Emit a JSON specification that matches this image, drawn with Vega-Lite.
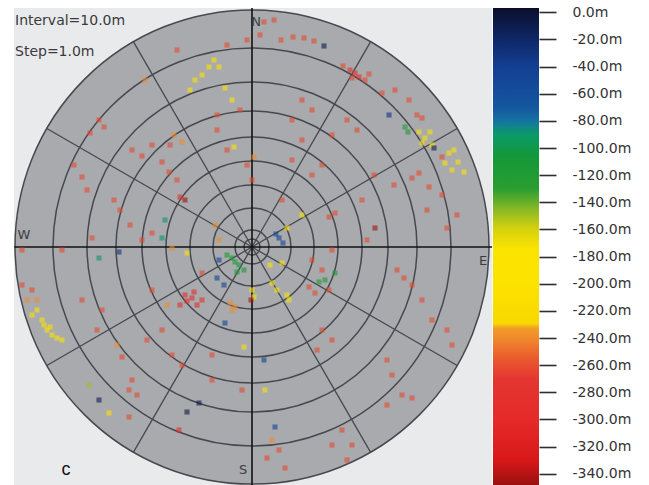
{
  "$schema": "https://vega.github.io/schema/vega-lite/v6.json",
  "background": "white",
  "padding": {"left": 12, "top": 5, "right": 0, "bottom": 0},
  "autosize": {"type": "pad"},
  "spacing": 1,
  "bounds": "flush",
  "config": {"view": {"stroke": null}},
  "hconcat": [
    {
      "width": 478,
      "height": 477,
      "view": {"fill": "#e9eaec", "stroke": null},
      "layer": [
        {
          "data": {"values": [{"r": 237}]},
          "mark": {"type": "point", "shape": "circle", "filled": true, "fill": "#a8aaad", "stroke": "#45494e", "strokeWidth": 1.5, "opacity": 1},
          "encoding": {
            "x": {"datum": 0, "type": "quantitative", "scale": {"domain": [-238, 240], "nice": false, "zero": false}, "axis": null},
            "y": {"datum": 0, "type": "quantitative", "scale": {"domain": [-238, 239], "nice": false, "zero": false}, "axis": null},
            "size": {"field": "r", "type": "quantitative", "scale": {"type": "pow", "exponent": 2, "domain": [0, 237], "range": [0, 224676], "zero": true}, "legend": null}
          }
        },
        {
          "data": {"values": [{"r": 8}, {"r": 17}, {"r": 39}, {"r": 62}, {"r": 86}, {"r": 110}, {"r": 136}, {"r": 165}, {"r": 199}]},
          "mark": {"type": "point", "shape": "circle", "filled": false, "stroke": "#45494e", "strokeWidth": 1.5, "opacity": 1},
          "encoding": {
            "x": {"datum": 0, "type": "quantitative", "scale": {"domain": [-238, 240], "nice": false, "zero": false}, "axis": null},
            "y": {"datum": 0, "type": "quantitative", "scale": {"domain": [-238, 239], "nice": false, "zero": false}, "axis": null},
            "size": {"field": "r", "type": "quantitative", "scale": {"type": "pow", "exponent": 2, "domain": [0, 237], "range": [0, 224676], "zero": true}, "legend": null}
          }
        },
        {
          "data": {"values": [
            {"x": 0, "y": 0, "x2": 118.5, "y2": 205.2},
            {"x": 0, "y": 0, "x2": 205.2, "y2": 118.5},
            {"x": 0, "y": 0, "x2": 205.2, "y2": -118.5},
            {"x": 0, "y": 0, "x2": 118.5, "y2": -205.2},
            {"x": 0, "y": 0, "x2": -118.5, "y2": -205.2},
            {"x": 0, "y": 0, "x2": -205.2, "y2": -118.5},
            {"x": 0, "y": 0, "x2": -205.2, "y2": 118.5},
            {"x": 0, "y": 0, "x2": -118.5, "y2": 205.2}
          ]},
          "mark": {"type": "rule", "stroke": "#45494e", "strokeWidth": 1.3},
          "encoding": {
            "x": {"field": "x", "type": "quantitative", "scale": {"domain": [-238, 240], "nice": false, "zero": false}, "axis": null},
            "y": {"field": "y", "type": "quantitative", "scale": {"domain": [-238, 239], "nice": false, "zero": false}, "axis": null},
            "x2": {"field": "x2"},
            "y2": {"field": "y2"}
          }
        },
        {
          "data": {"values": [
            {"x": -237.5, "y": 0, "x2": 240, "y2": 0},
            {"x": 0, "y": 239, "x2": 0, "y2": -238}
          ]},
          "mark": {"type": "rule", "stroke": "#111111", "strokeWidth": 1.6, "clip": true},
          "encoding": {
            "x": {"field": "x", "type": "quantitative", "scale": {"domain": [-238, 240], "nice": false, "zero": false}, "axis": null},
            "y": {"field": "y", "type": "quantitative", "scale": {"domain": [-238, 239], "nice": false, "zero": false}, "axis": null},
            "x2": {"field": "x2"},
            "y2": {"field": "y2"}
          }
        },
        {
          "data": {"values": [
            {"x":12,"y":225,"d":-262},{"x":22,"y":227,"d":-262},{"x":29,"y":207,"d":-262},{"x":41,"y":210,"d":-262},{"x":52,"y":209,"d":-262},{"x":62,"y":206,"d":-262},{"x":72,"y":201,"d":-8},{"x":8,"y":212,"d":-262},
            {"x":91,"y":181,"d":-262},{"x":98,"y":177,"d":-290},{"x":103,"y":174,"d":-290},{"x":107,"y":170,"d":-290},{"x":113,"y":167,"d":-262},{"x":100,"y":169,"d":-262},{"x":117,"y":173,"d":-262},
            {"x":130,"y":154,"d":-262},{"x":143,"y":157,"d":-262},{"x":157,"y":147,"d":-262},{"x":137,"y":132,"d":-30},{"x":165,"y":132,"d":-262},{"x":170,"y":129,"d":-262},
            {"x":153,"y":120,"d":-115},{"x":156,"y":115,"d":-115},{"x":167,"y":115,"d":-200},{"x":173,"y":109,"d":-200},{"x":178,"y":115,"d":-200},{"x":170,"y":104,"d":-200},{"x":180,"y":102,"d":-200},{"x":182,"y":99,"d":-8},
            {"x":197,"y":94,"d":-200},{"x":202,"y":97,"d":-200},{"x":193,"y":84,"d":-200},{"x":200,"y":77,"d":-200},{"x":206,"y":85,"d":-200},{"x":212,"y":75,"d":-200},{"x":190,"y":90,"d":-262},
            {"x":167,"y":74,"d":-262},{"x":177,"y":60,"d":-262},{"x":160,"y":69,"d":-262},{"x":190,"y":52,"d":-262},{"x":205,"y":32,"d":-262},{"x":195,"y":19,"d":-262},{"x":175,"y":37,"d":-262},{"x":142,"y":62,"d":-262},{"x":122,"y":72,"d":-262},
            {"x":110,"y":47,"d":-262},{"x":123,"y":19,"d":-345},{"x":115,"y":7,"d":-262},
            {"x":-75,"y":197,"d":-262},{"x":-107,"y":167,"d":-240},{"x":-57,"y":167,"d":-200},{"x":-43,"y":180,"d":-200},{"x":-33,"y":180,"d":-200},{"x":-27,"y":159,"d":-200},{"x":-62,"y":157,"d":-200},{"x":-50,"y":172,"d":-200},{"x":-38,"y":187,"d":-200},{"x":-20,"y":147,"d":-200},
            {"x":-12,"y":137,"d":-262},{"x":-25,"y":202,"d":-262},{"x":-5,"y":207,"d":-262},{"x":-35,"y":132,"d":-262},
            {"x":-153,"y":127,"d":-262},{"x":-148,"y":120,"d":-262},{"x":-162,"y":114,"d":-262},{"x":-120,"y":97,"d":-262},{"x":-110,"y":91,"d":-262},{"x":-100,"y":102,"d":-262},{"x":-90,"y":85,"d":-262},{"x":-83,"y":75,"d":-262},{"x":-75,"y":67,"d":-262},
            {"x":-67,"y":47,"d":-345},{"x":-72,"y":50,"d":-290},{"x":-78,"y":112,"d":-240},{"x":-70,"y":105,"d":-240},{"x":-82,"y":102,"d":-262},
            {"x":-35,"y":117,"d":-262},{"x":-25,"y":97,"d":-262},{"x":-18,"y":100,"d":-200},{"x":2,"y":90,"d":-240},{"x":-5,"y":82,"d":-262},{"x":0,"y":67,"d":-262},
            {"x":-178,"y":82,"d":-262},{"x":-170,"y":70,"d":-262},{"x":-165,"y":57,"d":-262},{"x":-138,"y":47,"d":-262},{"x":-132,"y":37,"d":-262},{"x":-110,"y":7,"d":-262},{"x":-100,"y":14,"d":-262},{"x":-122,"y":22,"d":-262},
            {"x":-90,"y":9,"d":-88},{"x":-80,"y":-1,"d":-240},{"x":-65,"y":-6,"d":-200},{"x":-33,"y":7,"d":-240},{"x":-37,"y":22,"d":-240},{"x":-33,"y":-13,"d":-45},{"x":-17,"y":-15,"d":-115},{"x":-153,"y":-11,"d":-88},{"x":-160,"y":9,"d":-262},{"x":-133,"y":-5,"d":-30},{"x":-87,"y":27,"d":-88},
            {"x":-230,"y":-3,"d":-262},{"x":-190,"y":-3,"d":-262},
            {"x":-20,"y":-11,"d":-115},{"x":-13,"y":-18,"d":-115},{"x":-8,"y":-23,"d":-115},{"x":-15,"y":-25,"d":-115},{"x":-25,"y":-8,"d":-115},
            {"x":27,"y":9,"d":-45},{"x":31,"y":4,"d":-45},{"x":24,"y":13,"d":-45},{"x":-35,"y":-31,"d":-45},{"x":-28,"y":-38,"d":-45},
            {"x":-50,"y":-26,"d":-262},{"x":-60,"y":-51,"d":-290},{"x":-65,"y":-54,"d":-290},{"x":-55,"y":-58,"d":-290},{"x":-67,"y":-48,"d":-290},{"x":-50,"y":-53,"d":-290},{"x":-72,"y":-58,"d":-290},{"x":-58,"y":-45,"d":-290},
            {"x":0,"y":-43,"d":-200},{"x":2,"y":-50,"d":-200},{"x":-1,"y":-53,"d":-345},{"x":20,"y":-36,"d":-200},{"x":25,"y":-43,"d":-200},{"x":35,"y":-48,"d":-200},{"x":37,"y":-53,"d":-200},{"x":30,"y":-16,"d":-200},{"x":18,"y":-18,"d":-200},
            {"x":67,"y":-35,"d":-115},{"x":73,"y":-33,"d":-115},{"x":83,"y":-26,"d":-115},{"x":57,"y":-40,"d":-262},{"x":63,"y":-46,"d":-262},{"x":77,"y":-43,"d":-262},
            {"x":-22,"y":-56,"d":-240},{"x":-20,"y":-63,"d":-240},{"x":-17,"y":-60,"d":-240},{"x":-27,"y":-76,"d":-45},
            {"x":77,"y":30,"d":-262},{"x":83,"y":34,"d":-262},{"x":50,"y":107,"d":-262},{"x":40,"y":87,"d":-262},{"x":60,"y":72,"d":-262},{"x":70,"y":82,"d":-262},{"x":30,"y":47,"d":-262},{"x":50,"y":32,"d":-200},{"x":35,"y":19,"d":-200},
            {"x":50,"y":147,"d":-262},{"x":60,"y":137,"d":-262},{"x":40,"y":127,"d":-262},{"x":95,"y":127,"d":-262},{"x":105,"y":117,"d":-262},{"x":80,"y":112,"d":-262},
            {"x":80,"y":-3,"d":-262},{"x":60,"y":-13,"d":-262},{"x":70,"y":-23,"d":-262},
            {"x":145,"y":-23,"d":-262},{"x":152,"y":-31,"d":-262},{"x":160,"y":-38,"d":-262},{"x":170,"y":-53,"d":-262},{"x":180,"y":-73,"d":-262},{"x":195,"y":-83,"d":-262},{"x":200,"y":-98,"d":-262},
            {"x":135,"y":-113,"d":-262},{"x":140,"y":-128,"d":-262},{"x":150,"y":-148,"d":-262},{"x":160,"y":-151,"d":-262},{"x":135,"y":-158,"d":-262},
            {"x":70,"y":-83,"d":-262},{"x":80,"y":-93,"d":-262},{"x":65,"y":-103,"d":-262},
            {"x":90,"y":-183,"d":-262},{"x":100,"y":-198,"d":-262},{"x":80,"y":-198,"d":-262},{"x":95,"y":-213,"d":-262},
            {"x":20,"y":-193,"d":-240},{"x":15,"y":-211,"d":-262},{"x":27,"y":-203,"d":-262},{"x":33,"y":-221,"d":-262},
            {"x":12,"y":-113,"d":-45},{"x":-8,"y":-100,"d":-200},{"x":13,"y":-143,"d":-200},{"x":23,"y":-180,"d":-45},
            {"x":-220,"y":-68,"d":-200},{"x":-210,"y":-73,"d":-200},{"x":-205,"y":-83,"d":-200},{"x":-200,"y":-88,"d":-200},{"x":-195,"y":-91,"d":-200},{"x":-190,"y":-93,"d":-200},{"x":-208,"y":-78,"d":-200},{"x":-215,"y":-63,"d":-200},{"x":-202,"y":-80,"d":-200},
            {"x":-225,"y":-53,"d":-240},{"x":-215,"y":-53,"d":-240},{"x":-230,"y":-38,"d":-262},{"x":-220,"y":-43,"d":-262},
            {"x":-170,"y":-53,"d":-262},{"x":-150,"y":-63,"d":-262},{"x":-155,"y":-83,"d":-262},
            {"x":-135,"y":-98,"d":-240},{"x":-130,"y":-110,"d":-262},{"x":-120,"y":-133,"d":-262},{"x":-115,"y":-148,"d":-262},{"x":-123,"y":-143,"d":-262},
            {"x":-105,"y":-93,"d":-262},{"x":-90,"y":-83,"d":-262},{"x":-80,"y":-108,"d":-262},{"x":-70,"y":-118,"d":-262},{"x":-100,"y":-43,"d":-262},{"x":-85,"y":-58,"d":-240},
            {"x":-153,"y":-153,"d":-8},{"x":-143,"y":-166,"d":-200},{"x":-123,"y":-170,"d":-262},{"x":-65,"y":-165,"d":-8},{"x":-53,"y":-156,"d":-8},{"x":-73,"y":-183,"d":-290},{"x":-163,"y":-138,"d":-150},
            {"x":-40,"y":-133,"d":-262},{"x":-10,"y":-143,"d":-262},{"x":-40,"y":-108,"d":-262}
          ]},
          "mark": {"type": "point", "shape": "square", "filled": true, "size": 26, "opacity": 0.6, "strokeWidth": 0},
          "encoding": {
            "x": {"field": "x", "type": "quantitative", "scale": {"domain": [-238, 240], "nice": false, "zero": false}, "axis": null},
            "y": {"field": "y", "type": "quantitative", "scale": {"domain": [-238, 239], "nice": false, "zero": false}, "axis": null},
            "color": {
              "field": "d", "type": "quantitative", "legend": null,
              "scale": {
                "type": "linear", "interpolate": "rgb",
                "domain": [-348.3, -330, -300, -270, -255, -240, -233, -229, -200, -175, -160, -145, -130, -105, -90, -80, -70, -40, -20, 0, 3.2],
                "range": ["#9a1010", "#d81818", "#e52a2a", "#e43630", "#ea5a2e", "#f08a2c", "#f29a28", "#f8d800", "#fde300", "#fbe400", "#d7d20c", "#88b826", "#2a9e30", "#12983a", "#0b9a6a", "#1574a0", "#1456a0", "#133f92", "#0f2766", "#0b1234", "#090c22"]
              }
            }
          }
        },
        {
          "data": {"values": [
            {"x": -237, "y": 226, "t": "Interval=10.0m"},
            {"x": -237, "y": 195, "t": "Step=1.0m"}
          ]},
          "mark": {"type": "text", "align": "left", "baseline": "middle", "font": "DejaVu Sans", "fontSize": 14, "color": "#3a3a3a"},
          "encoding": {
            "x": {"field": "x", "type": "quantitative", "scale": {"domain": [-238, 240], "nice": false, "zero": false}, "axis": null},
            "y": {"field": "y", "type": "quantitative", "scale": {"domain": [-238, 239], "nice": false, "zero": false}, "axis": null},
            "text": {"field": "t"}
          }
        },
        {
          "data": {"values": [
            {"x": 4, "y": 225, "t": "N"},
            {"x": -228, "y": 12, "t": "W"},
            {"x": 231, "y": -14, "t": "E"},
            {"x": -9, "y": -223, "t": "S"}
          ]},
          "mark": {"type": "text", "align": "center", "baseline": "middle", "font": "DejaVu Sans", "fontSize": 13, "color": "#3d3d3d"},
          "encoding": {
            "x": {"field": "x", "type": "quantitative", "scale": {"domain": [-238, 240], "nice": false, "zero": false}, "axis": null},
            "y": {"field": "y", "type": "quantitative", "scale": {"domain": [-238, 239], "nice": false, "zero": false}, "axis": null},
            "text": {"field": "t"}
          }
        },
        {
          "data": {"values": [{"x": -186, "y": -223, "t": "c"}]},
          "mark": {"type": "text", "align": "center", "baseline": "middle", "font": "Liberation Sans", "fontSize": 18, "color": "#111111"},
          "encoding": {
            "x": {"field": "x", "type": "quantitative", "scale": {"domain": [-238, 240], "nice": false, "zero": false}, "axis": null},
            "y": {"field": "y", "type": "quantitative", "scale": {"domain": [-238, 239], "nice": false, "zero": false}, "axis": null},
            "text": {"field": "t"}
          }
        }
      ]
    },
    {
      "width": 46,
      "height": 477,
      "data": {"values": [{"top": 3.2, "bottom": -348.3}]},
      "mark": {
        "type": "rect",
        "stroke": null,
        "fill": {
          "gradient": "linear", "x1": 0, "y1": 0, "x2": 0, "y2": 1,
          "stops": [
            {"offset": 0, "color": "#090c22"},
            {"offset": 0.009, "color": "#0b1234"},
            {"offset": 0.066, "color": "#0f2766"},
            {"offset": 0.123, "color": "#133f92"},
            {"offset": 0.208, "color": "#1456a0"},
            {"offset": 0.237, "color": "#1574a0"},
            {"offset": 0.265, "color": "#0b9a6a"},
            {"offset": 0.308, "color": "#12983a"},
            {"offset": 0.379, "color": "#2a9e30"},
            {"offset": 0.422, "color": "#88b826"},
            {"offset": 0.464, "color": "#d7d20c"},
            {"offset": 0.507, "color": "#fbe400"},
            {"offset": 0.578, "color": "#fde300"},
            {"offset": 0.661, "color": "#f8d800"},
            {"offset": 0.672, "color": "#f29a28"},
            {"offset": 0.692, "color": "#f08a2c"},
            {"offset": 0.735, "color": "#ea5a2e"},
            {"offset": 0.777, "color": "#e43630"},
            {"offset": 0.863, "color": "#e52a2a"},
            {"offset": 0.948, "color": "#d81818"},
            {"offset": 1, "color": "#9a1010"}
          ]
        }
      },
      "encoding": {
        "x": {"datum": 0, "type": "quantitative", "scale": {"domain": [0, 1], "nice": false, "zero": false}, "axis": null},
        "x2": {"datum": 1},
        "y": {
          "field": "top", "type": "quantitative",
          "scale": {"domain": [-348.3, 3.2], "nice": false, "zero": false},
          "axis": {
            "orient": "right", "title": null, "domain": false, "grid": false,
            "values": [0, -20, -40, -60, -80, -100, -120, -140, -160, -180, -200, -220, -240, -260, -280, -300, -320, -340],
            "labelExpr": "(datum.value < 0 ? '-' : '') + format(abs(datum.value), '.1f') + 'm'",
            "tickSize": 17, "tickWidth": 1.6, "tickColor": "#2d2d2d",
            "labelFont": "DejaVu Sans", "labelFontSize": 14, "labelColor": "#333333", "labelPadding": 16,
            "labelOverlap": false, "labelBound": false, "labelFlush": false
          }
        },
        "y2": {"field": "bottom"}
      }
    }
  ]
}
